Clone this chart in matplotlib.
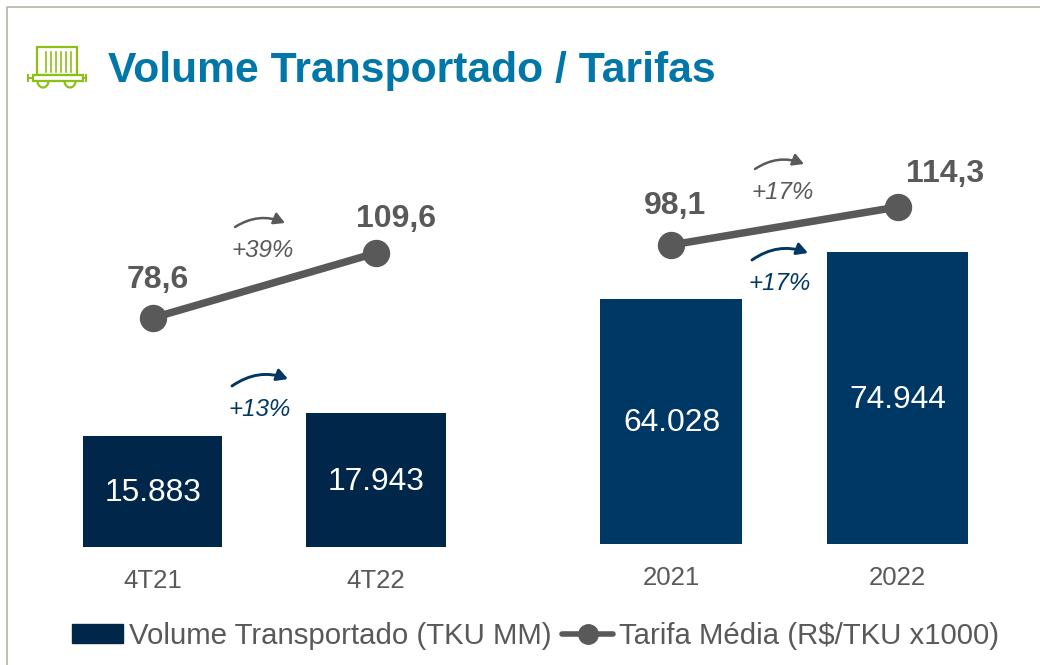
import matplotlib
matplotlib.use("Agg")
import matplotlib.pyplot as plt
from matplotlib.lines import Line2D
from matplotlib.patches import FancyArrowPatch, Patch, Rectangle, Arc

plt.rcParams['font.family'] = ['Liberation Sans', 'DejaVu Sans']

W, H = 1040, 665
NAVY_DARK = '#00274A'
NAVY = '#003865'
GRAY = '#595959'
BLUE = '#0077A8'
GREEN = '#8DBF14'

# data, one list per panel
quarters = ['4T21', '4T22']
quarter_volume = [15883, 17943]
quarter_tariff = [78.6, 109.6]
years = ['2021', '2022']
year_volume = [64028, 74944]
year_tariff = [98.1, 114.3]
volume_labels_q = ['15.883', '17.943']
volume_labels_y = ['64.028', '74.944']
tariff_labels_q = ['78,6', '109,6']
tariff_labels_y = ['98,1', '114,3']

fig = plt.figure(figsize=(W / 100, H / 100), dpi=100, facecolor='white')


def axes_px(x0, x1, y_top, y_bottom):
    # axes rectangle given in image pixels
    return fig.add_axes([x0 / W, 1 - y_bottom / H, (x1 - x0) / W, (y_bottom - y_top) / H])


def panel(box, xlim, vol_lim, tariff_lim, cats, vols, tariffs, vol_labels, tariff_labels,
          bar_color, label_offsets, cat_pad, vol_nudge):
    ax = axes_px(*box)
    ax.bar(range(2), vols, width=0.625, color=bar_color)
    ax.set_xlim(*xlim)
    ax.set_ylim(*vol_lim)
    ax.set_xticks(range(2))
    ax.set_xticklabels(cats, fontsize=18.5, color=GRAY)
    ax.tick_params(axis='x', length=0, pad=cat_pad)
    ax.set_yticks([])
    for s in ax.spines.values():
        s.set_visible(False)
    ax.patch.set_alpha(0)
    for i in range(2):
        ax.annotate(vol_labels[i], (i, (vol_lim[0] + vols[i]) / 2), xytext=(0.5, vol_nudge),
                    textcoords='offset pixels', ha='center', va='center',
                    fontsize=22.9, color='white')
    # tariff line on its own scale
    ax2 = ax.twinx()
    ax2.plot(range(2), tariffs, color=GRAY, lw=5.4, marker='o', ms=18.7, solid_capstyle='round')
    ax2.set_ylim(*tariff_lim)
    ax2.set_yticks([])
    for s in ax2.spines.values():
        s.set_visible(False)
    for i in range(2):
        ax2.annotate(tariff_labels[i], (i, tariffs[i]), xytext=label_offsets[i],
                     textcoords='offset pixels', ha='center', va='center',
                     fontsize=23, fontweight='bold', color=GRAY)
    return ax


# left panel: bars sit on y=547, points are 2.097 px per unit
panel((60, 470, 100, 547), ((60 - 152.6) / 223.4, (470 - 152.6) / 223.4),
      (5942, 5942 + 447 / 0.01117), (78.6 - (547 - 318) / 2.097, 78.6 + (318 - 100) / 2.097),
      quarters, quarter_volume, quarter_tariff, volume_labels_q, tariff_labels_q,
      NAVY_DARK, [(5, 38), (20, 34)], 15.8, -2)
# right panel
panel((580, 990, 100, 544), ((580 - 671.2) / 226.5, (990 - 671.2) / 226.5),
      (7128, 7128 + 444 / 0.004306), (98.1 - (544 - 245) / 2.346, 98.1 + (245 - 100) / 2.346),
      years, year_volume, year_tariff, volume_labels_y, tariff_labels_y,
      NAVY, [(4, 39), (47, 33)], 15.8, -2)

# overlay in pixel coordinates for the frame, icon and growth arrows
ov = fig.add_axes([0, 0, 1, 1], zorder=5)
ov.set_xlim(0, W)
ov.set_ylim(H, 0)
ov.axis('off')

ov.plot([7, 7, W], [H, 7, 7], color='#B4B4A8', lw=1.2)

ov.text(108, 71, 'Volume Transportado / Tarifas', fontsize=30.7, fontweight='bold', color=BLUE,
        ha='left', va='center')

# wagon icon
ov.add_patch(Rectangle((36.5, 47), 40, 28, fc='none', ec=GREEN, lw=1.6))
for x in [46, 51, 56, 61, 66, 71]:
    ov.plot([x, x], [52, 72], color=GREEN, lw=1.2)
ov.add_patch(Rectangle((33, 75), 50, 6, fc='white', ec=GREEN, lw=1.6))
ov.plot([28, 33], [78, 78], color=GREEN, lw=1.4)
ov.plot([83, 86], [78, 78], color=GREEN, lw=1.4)
ov.plot([28, 28], [75, 81], color=GREEN, lw=1.4)
ov.plot([85.5, 85.5], [75, 81], color=GREEN, lw=1.4)
for x in [43, 70]:
    ov.add_patch(Arc((x, 81), 11, 13, theta1=0, theta2=180, color=GREEN, lw=1.6))


def growth(x, y, text, color, lw, dx, dy):
    ov.add_patch(FancyArrowPatch((x, y), (x + dx, y - dy), connectionstyle='arc3,rad=-0.26',
                                 arrowstyle='-|>,head_length=6.5,head_width=3.6',
                                 color=color, lw=lw, shrinkA=0, shrinkB=0))
    ov.text(x + 28, y + 23.5, text, fontsize=17.4, style='italic', color=color,
            ha='center', va='center')


growth(235, 227, '+39%', GRAY, 1.8, 50, 4)
growth(232, 386, '+13%', NAVY, 2.1, 56, 7)
growth(755, 169, '+17%', GRAY, 1.8, 49, 5)
growth(752, 260, '+17%', NAVY, 2.1, 56, 7)

handles = [Patch(color=NAVY_DARK),
           Line2D([], [], color=GRAY, lw=4, marker='o', ms=14, solid_capstyle='round')]
fig.legend(handles, ['Volume Transportado (TKU MM)', 'Tarifa Média (R$/TKU x1000)'],
           loc='center left', bbox_to_anchor=(72 / W, 1 - 636 / H), ncol=2, frameon=False,
           fontsize=21.2, labelcolor=GRAY, handlelength=1.72, handleheight=0.6,
           handletextpad=0.22, columnspacing=0.36, borderpad=0, borderaxespad=0)

fig.savefig('out.png', dpi=100)
